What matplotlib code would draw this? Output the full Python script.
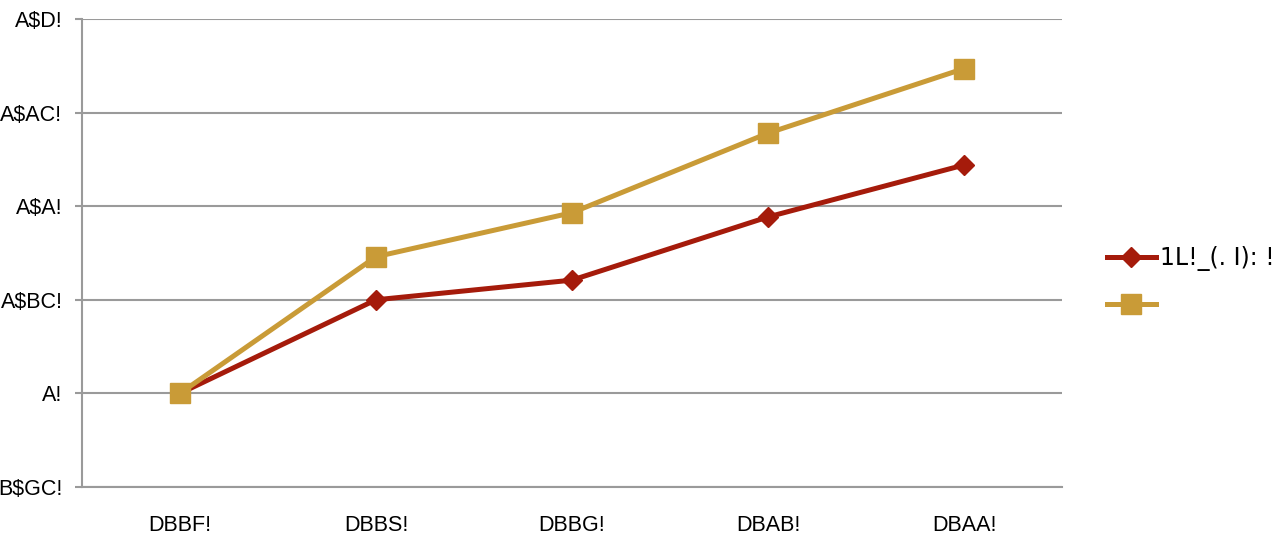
import matplotlib
matplotlib.use('agg')
import matplotlib.pyplot as plt

# category labels and tick labels (as they appear in the source)
categories = ['DBBF!', 'DBBS!', 'DBBG!', 'DBAB!', 'DBAA!']
ytick_labels = ['B$GC!', 'A!', 'A$BC!', 'A$A!', 'A$AC!', 'A$D!']

# series values, in tick units from the bottom gridline
red_vals = [1.0, 2.0, 2.21, 2.885, 3.44]
gold_vals = [1.0, 2.46, 2.93, 3.78, 4.47]
red_label = '1L!_(. I): !'
gold_label = ''

plt.rcParams['font.family'] = ['Liberation Sans', 'DejaVu Sans']

fig = plt.figure(figsize=(12.8, 5.47), dpi=100)
ax = fig.add_axes([0.064, 0.1097, 0.7657, 0.8556])

x = range(len(categories))
red_line, = ax.plot(x, red_vals, color='#A51B0B', lw=3.6, marker='D',
                    markersize=10, zorder=3)
gold_line, = ax.plot(x, gold_vals, color='#C99B37', lw=3.6, marker='s',
                     markersize=14, zorder=3)

ax.set_xlim(-0.5, 4.5)
ax.set_ylim(0, 5)
ax.set_xticks(list(x))
ax.set_xticklabels(categories, fontsize=15.5)
ax.set_yticks(range(len(ytick_labels)))
ax.set_yticklabels(ytick_labels, fontsize=15.5)

ax.grid(axis='y', color='#9a9a9a', lw=1.5)
ax.set_axisbelow(True)
for s in ['top', 'right']:
    ax.spines[s].set_visible(False)
for s in ['left', 'bottom']:
    ax.spines[s].set_color('#9a9a9a')
    ax.spines[s].set_linewidth(1.5)
ax.tick_params(axis='y', length=5, color='#9a9a9a', width=1.5, pad=9)
ax.tick_params(axis='x', length=0, pad=20)

fig.legend([red_line, gold_line], [red_label, gold_label],
           loc='center left', bbox_to_anchor=(0.848, 0.485), frameon=False,
           prop={'family': 'DejaVu Sans', 'size': 17}, handlelength=2.1,
           handletextpad=0.15, labelspacing=0.95)

fig.savefig('out.png', dpi=100)
